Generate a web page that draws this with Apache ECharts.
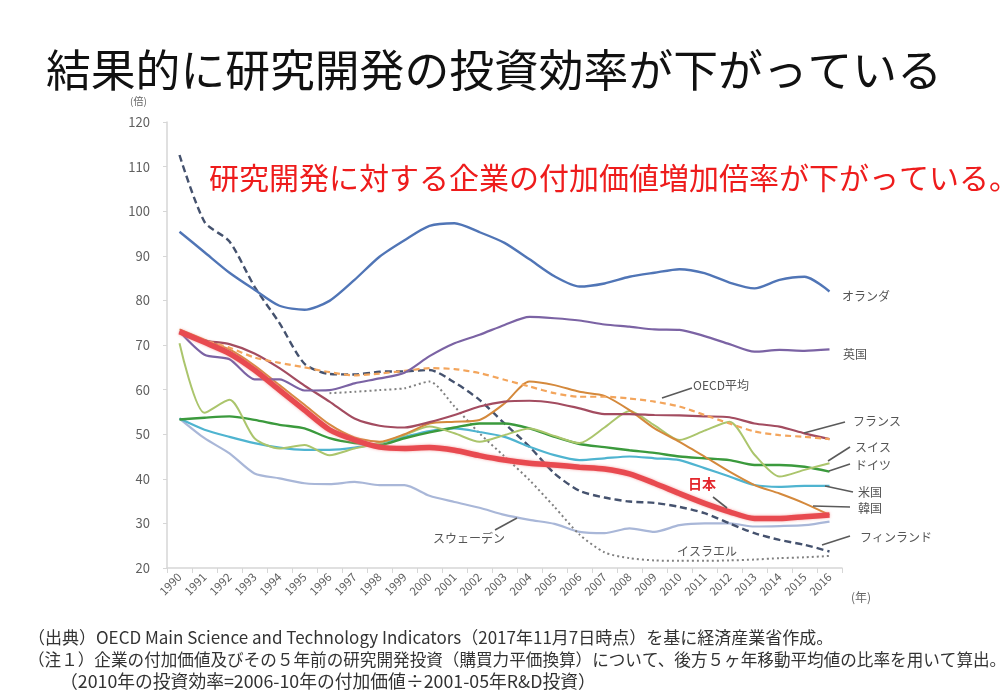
<!DOCTYPE html>
<html>
<head>
<meta charset="utf-8">
<script src="https://cdn.jsdelivr.net/npm/echarts@6/dist/echarts.min.js"></script>
<style>
html,body{margin:0;padding:0;background:#fff;}
#chart{width:1000px;height:692px;}
</style>
</head>
<body>
<div id="chart"></div>
<script>
var years = ['1990','1991','1992','1993','1994','1995','1996','1997','1998','1999','2000','2001','2002','2003','2004','2005','2006','2007','2008','2009','2010','2011','2012','2013','2014','2015','2016'];
var yTicks = [20, 120, 10];

var netherlands = [95.4, 90.8, 86.2, 82.4, 78.8, 77.9, 79.9, 84.6, 89.8, 93.5, 96.7, 97.3, 95.3, 92.9, 89.2, 85.4, 83.1, 83.8, 85.3, 86.2, 87.0, 86.1, 84.0, 82.7, 84.6, 85.3, 82.0];
var uk = [73.0, 67.8, 66.8, 62.3, 62.3, 59.8, 59.9, 61.4, 62.5, 63.8, 67.5, 70.4, 72.3, 74.5, 76.3, 76.0, 75.5, 74.6, 74.1, 73.5, 73.4, 72.0, 70.2, 68.5, 68.9, 68.7, 69.0];
var finland = [112.6, 97.6, 93.2, 83.1, 74.9, 65.8, 63.5, 63.4, 64.0, 64.1, 64.4, 61.6, 57.7, 52.4, 47.2, 41.2, 37.3, 35.8, 34.9, 34.6, 33.7, 32.3, 30.0, 27.8, 26.3, 25.2, 23.7];
var israel = [null, null, null, null, null, null, 59.2, 59.5, 59.9, 60.3, 61.8, 56.2, 50.2, 45.0, 39.7, 33.7, 27.5, 23.5, 22.2, 21.7, 21.6, 21.6, 21.7, 21.9, 22.2, 22.4, 22.7];
var oecd = [72.7, 71.0, 69.4, 67.2, 66.0, 65.0, 63.9, 63.2, 63.6, 64.2, 64.8, 64.6, 63.7, 62.2, 60.7, 59.2, 58.4, 58.4, 58.0, 57.3, 56.2, 54.3, 52.4, 50.6, 49.8, 49.4, 48.9];
var france = [72.8, 71.0, 70.2, 68.1, 64.8, 60.9, 57.3, 53.5, 51.9, 51.5, 52.7, 54.3, 56.2, 57.3, 57.5, 57.0, 55.8, 54.5, 54.5, 54.3, 54.2, 54.0, 53.8, 52.4, 51.7, 50.2, 48.9];
var korea = [73.5, 71.2, 69.0, 65.4, 61.0, 56.6, 52.2, 49.3, 48.3, 50.0, 52.4, 52.8, 53.2, 56.9, 61.8, 61.0, 59.5, 58.6, 55.4, 51.3, 48.3, 45.0, 41.6, 38.6, 36.7, 34.5, 31.9];
var swiss = [70.4, 54.8, 57.7, 49.1, 46.8, 47.6, 45.3, 46.8, 48.0, 49.8, 51.7, 50.2, 48.3, 49.8, 51.3, 49.6, 48.0, 51.5, 55.2, 52.0, 48.7, 50.8, 52.8, 45.4, 40.5, 42.0, 43.5];
var germany = [53.3, 53.7, 54.0, 53.2, 52.1, 51.3, 49.1, 48.0, 47.6, 49.1, 50.4, 51.5, 52.4, 52.4, 51.3, 49.4, 47.8, 47.1, 46.4, 45.8, 45.0, 44.6, 44.2, 43.1, 43.1, 42.7, 41.6];
var usa = [53.5, 51.0, 49.4, 48.0, 47.0, 46.5, 46.5, 47.0, 48.0, 49.4, 50.7, 51.3, 50.5, 49.4, 47.2, 45.3, 44.2, 44.6, 45.0, 44.6, 44.2, 42.4, 40.5, 38.6, 38.2, 38.4, 38.4];
var sweden = [53.5, 49.1, 45.7, 41.2, 40.1, 39.0, 38.8, 39.3, 38.6, 38.6, 36.2, 34.8, 33.5, 31.9, 30.8, 29.9, 28.1, 27.8, 28.9, 28.1, 29.6, 30.0, 30.0, 29.3, 29.4, 29.6, 30.4];
var japan = [73.0, 70.6, 68.1, 64.4, 59.9, 55.4, 51.0, 48.7, 47.1, 46.8, 47.0, 46.4, 45.2, 44.2, 43.5, 43.1, 42.6, 42.2, 41.1, 39.0, 36.7, 34.5, 32.6, 31.1, 31.1, 31.5, 31.9];

var titleText = '結果的に研究開発の投資効率が下がっている';
var subText = '研究開発に対する企業の付加価値増加倍率が下がっている。';
var notes = [
  '（出典）OECD Main Science and Technology Indicators（2017年11月7日時点）を基に経済産業省作成。',
  '（注１）企業の付加価値及びその５年前の研究開発投資（購買力平価換算）について、後方５ヶ年移動平均値の比率を用いて算出。',
  '（2010年の投資効率=2006-10年の付加価値÷2001-05年R&D投資）'
];

var FONT = '"Noto Sans CJK JP", "Noto Sans", sans-serif';
var chart = echarts.init(document.getElementById('chart'), null, {renderer: 'canvas'});

function line(name, data, color, width, type, z) {
  return {
    name: name, type: 'line', data: data, smooth: 0.25, symbol: 'none',
    connectNulls: false, z: z || 2,
    lineStyle: {color: color, width: width, type: type || 'solid'},
    itemStyle: {color: color},
    emphasis: {disabled: true}
  };
}

var labels = [
  {t: 'オランダ', x: 842, y: 296},
  {t: '英国', x: 843, y: 354},
  {t: 'OECD平均', x: 693, y: 385, l: [662, 398, 692, 388]},
  {t: 'フランス', x: 853, y: 421, l: [804, 433, 845, 422]},
  {t: 'スイス', x: 855, y: 447, l: [828, 461, 850, 447]},
  {t: 'ドイツ', x: 855, y: 465, l: [829, 471, 850, 464]},
  {t: '米国', x: 858, y: 492, l: [825, 486, 853, 492]},
  {t: '韓国', x: 858, y: 508, l: [813, 506, 850, 507]},
  {t: 'フィンランド', x: 860, y: 537, l: [822, 545, 850, 536]},
  {t: 'イスラエル', x: 677, y: 551},
  {t: 'スウェーデン', x: 433, y: 538, l: [495, 530, 517, 518]}
];

var graphics = [];
labels.forEach(function (o) {
  if (o.l) {
    graphics.push({type: 'line', z: 50, shape: {x1: o.l[0], y1: o.l[1], x2: o.l[2], y2: o.l[3]},
      style: {stroke: '#5a5a5a', lineWidth: 1.6}});
  }
  graphics.push({type: 'text', z: 50, x: o.x, y: o.y,
    style: {text: o.t, fill: '#555', font: '12px ' + FONT, textVerticalAlign: 'middle'}});
});
graphics.push({type: 'line', z: 50, shape: {x1: 713, y1: 497, x2: 727, y2: 508}, style: {stroke: '#5a5a5a', lineWidth: 1.6}});
graphics.push({type: 'text', z: 50, x: 688, y: 484,
  style: {text: '日本', fill: '#e3262c', font: 'bold 14px ' + FONT, textVerticalAlign: 'middle'}});
graphics.push({type: 'text', z: 50, x: 46, y: 70,
  style: {text: titleText, fill: '#111', font: '44.8px ' + FONT, textVerticalAlign: 'middle'}});
graphics.push({type: 'text', z: 50, x: 209, y: 178,
  style: {text: subText, fill: '#ee1c1c', font: '30px ' + FONT, textVerticalAlign: 'middle'}});
graphics.push({type: 'text', z: 50, x: 130, y: 101,
  style: {text: '(倍)', fill: '#666', font: '10px ' + FONT, textVerticalAlign: 'middle'}});
graphics.push({type: 'text', z: 50, x: 851, y: 597,
  style: {text: '(年)', fill: '#666', font: '12px ' + FONT, textVerticalAlign: 'middle'}});
var noteX = [28, 28, 60], noteY = [638, 660, 681], noteSize = [17, 16.6, 17.8];
notes.forEach(function (t, i) {
  graphics.push({type: 'text', z: 50, x: noteX[i], y: noteY[i],
    style: {text: t, fill: '#333', font: noteSize[i] + 'px ' + FONT, textVerticalAlign: 'middle'}});
});

chart.setOption({
  animation: false,
  backgroundColor: '#fff',
  grid: {left: 167, right: 158, top: 122, bottom: 124, containLabel: false},
  xAxis: {
    type: 'category', data: years, boundaryGap: true,
    axisLine: {lineStyle: {color: '#d6d6d6', width: 1.5}},
    axisTick: {show: true, length: 5, lineStyle: {color: '#d6d6d6'}},
    axisLabel: {rotate: 45, fontSize: 11.5, color: '#606060', fontFamily: FONT, margin: 7, interval: 0}
  },
  yAxis: {
    type: 'value', min: yTicks[0], max: yTicks[1], interval: yTicks[2],
    axisLine: {show: true, lineStyle: {color: '#d6d6d6', width: 1.5}},
    axisTick: {show: true, length: 4, lineStyle: {color: '#d6d6d6'}},
    splitLine: {show: false},
    axisLabel: {fontSize: 13, color: '#606060', fontFamily: FONT, margin: 17}
  },
  series: [
    line('スウェーデン', sweden, '#a9b7d8', 2.2),
    line('イスラエル', israel, '#808080', 2, [2, 3]),
    line('フィンランド', finland, '#45526e', 2.4, [7, 4]),
    line('米国', usa, '#4fb4d0', 2.2),
    line('ドイツ', germany, '#3b9a3d', 2.4),
    line('スイス', swiss, '#abc56c', 2),
    line('韓国', korea, '#d4893c', 2),
    line('フランス', france, '#a34c60', 2.2),
    line('OECD平均', oecd, '#f3a55c', 2.2, [6, 4]),
    line('英国', uk, '#7b63a4', 2.2),
    line('オランダ', netherlands, '#5075b6', 2.4),
    {
      name: '日本', type: 'line', data: japan, smooth: 0.25, symbol: 'none', z: 5,
      lineStyle: {color: '#e84a50', width: 5.5, shadowColor: 'rgba(240,130,130,0.7)', shadowBlur: 3},
      emphasis: {disabled: true}
    }
  ],
  graphic: graphics
});
</script>
</body>
</html>
